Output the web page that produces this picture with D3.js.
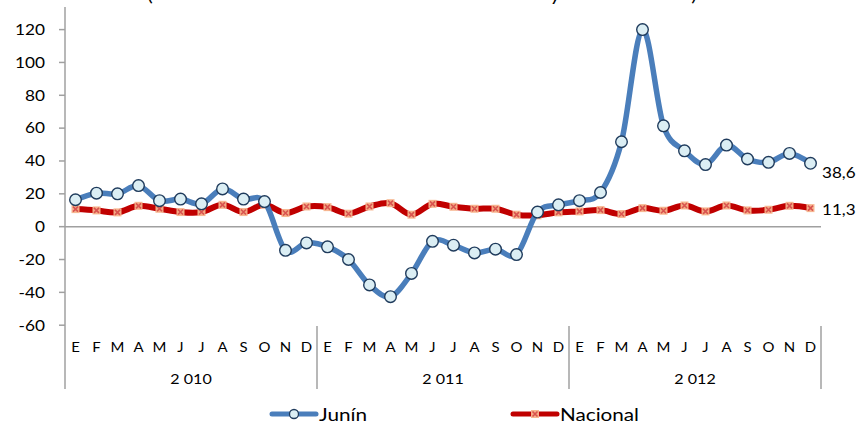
<!DOCTYPE html>
<html><head><meta charset="utf-8">
<script src="https://cdn.jsdelivr.net/npm/d3@7"></script>
<style>html,body{margin:0;padding:0;background:#fff;} svg{display:block;font-family:Lato,"Open Sans",sans-serif;}</style>
</head><body>
<svg id="chart" width="860" height="422"></svg>
<script>
const months = ["E","F","M","A","M","J","J","A","S","O","N","D"];
const years = ["2 010","2 011","2 012"];
const yTicks = [-60,-40,-20,0,20,40,60,80,100,120];
const junin = [16.4,20.4,20.0,25.0,15.8,16.8,13.9,23.0,16.8,15.3,-14.4,-9.9,
  -12.3,-20.0,-35.5,-42.6,-28.5,-8.9,-11.3,-16.0,-13.7,-17.0,8.9,13.3,
  15.8,20.8,51.7,120.0,61.4,46.2,37.8,49.7,41.2,39.2,44.6,38.6];
const nacional = [10.7,9.9,8.7,12.7,10.9,8.9,8.9,13.3,8.9,13.3,8.3,12.3,
  11.9,7.9,12.3,14.3,7.3,13.9,12.1,10.9,10.9,7.3,6.9,8.7,
  9.3,10.1,7.7,11.3,9.7,12.9,9.3,12.9,9.9,10.3,12.7,11.3];
const seriesNames = ["Junín","Nacional"];
const endLabels = ["38,6","11,3"];
const titleBits = ["(","y",")"];

const svg = d3.select("#chart");
const SX = 1.15;
const left = 65, right = 821;
const idx = d3.range(junin.length);
const x = d3.scaleBand().domain(idx).range([left,right]).padding(0);
const cx = i => x(i) + x.bandwidth()/2;
const y = d3.scaleLinear().domain([-60,120]).range([325.2,29.6]);

function txt(g, s, px, py, size, anchor, sx){
  return g.append("text").text(s)
    .attr("transform",`translate(${px},${py}) scale(${sx||SX},1)`)
    .attr("text-anchor",anchor||"start")
    .attr("font-size",size).attr("fill","#000");
}

// title fragments (cropped at the top edge, as in the reference)
const titleX = [150,555,694];
titleBits.forEach((t,i)=>txt(svg,t,titleX[i],0.5,18,"middle"));

const axisColor = "#a0a0a0";
svg.append("line").attr("x1",left).attr("x2",left).attr("y1",7).attr("y2",389)
  .attr("stroke",axisColor).attr("stroke-width",1.5);
yTicks.forEach(v=>{
  svg.append("line").attr("x1",left-6).attr("x2",left).attr("y1",y(v)).attr("y2",y(v))
    .attr("stroke",axisColor).attr("stroke-width",1.5);
  txt(svg, String(v), 45, y(v)+5.3, 15, "end");
});
svg.append("line").attr("x1",left).attr("x2",right).attr("y1",y(0)).attr("y2",y(0))
  .attr("stroke",axisColor).attr("stroke-width",1.5);

years.forEach((yr,k)=>{
  const xr = x(k*12+11)+x.bandwidth();
  svg.append("line").attr("x1",xr).attr("x2",xr).attr("y1",326).attr("y2",389)
    .attr("stroke",axisColor).attr("stroke-width",1.5);
  const xc = (x(k*12) + xr)/2;
  txt(svg, yr, xc, 384, 14, "middle");
});
idx.forEach(i=>{
  txt(svg, months[i%12], cx(i), 351.5, 13, "middle");
});

const curve = d3.curveCatmullRom.alpha(0);
const line = d3.line().x((d,i)=>cx(i)).y(d=>y(d)).curve(curve);

const blue = "#4a7ebb", red = "#c00000";
svg.append("path").attr("d",line(nacional)).attr("fill","none")
  .attr("stroke",red).attr("stroke-width",6).attr("stroke-linejoin","round");
function xMarker(g, px, py){
  g.append("rect").attr("x",px-4).attr("y",py-4).attr("width",8).attr("height",8)
    .attr("fill","#f7b48c").attr("opacity",0.95);
  g.append("path").attr("d",`M${px-2.5},${py-2.5}L${px+2.5},${py+2.5}M${px-2.5},${py+2.5}L${px+2.5},${py-2.5}`)
    .attr("stroke","#d9534f").attr("stroke-width",1.6);
}
nacional.forEach((v,i)=>xMarker(svg, cx(i), y(v)));

svg.append("path").attr("d",line(junin)).attr("fill","none")
  .attr("stroke",blue).attr("stroke-width",5.5).attr("stroke-linejoin","round");
svg.selectAll("circle.j").data(junin).enter().append("circle")
  .attr("cx",(d,i)=>cx(i)).attr("cy",d=>y(d)).attr("r",5.8)
  .attr("fill","#dbeef4").attr("stroke","#1f3b5c").attr("stroke-width",1.4);

const last = junin.length-1;
txt(svg, endLabels[0], 822, y(junin[last])+15, 15.5, "start", 1.1);
txt(svg, endLabels[1], 822, y(nacional[last])+6.5, 15.5, "start", 1.1);

const lg = svg.append("g");
lg.append("line").attr("x1",272).attr("x2",316).attr("y1",414).attr("y2",414)
  .attr("stroke",blue).attr("stroke-width",5).attr("stroke-linecap","round");
lg.append("circle").attr("cx",294).attr("cy",414).attr("r",4.5)
  .attr("fill","#dbeef4").attr("stroke","#1f3b5c").attr("stroke-width",1.3);
txt(lg, seriesNames[0], 319, 420.5, 18, "start");
lg.append("line").attr("x1",513).attr("x2",557).attr("y1",414).attr("y2",414)
  .attr("stroke",red).attr("stroke-width",5).attr("stroke-linecap","round");
xMarker(lg, 535, 414);
txt(lg, seriesNames[1], 560, 420.5, 18, "start");
</script>
</body></html>
